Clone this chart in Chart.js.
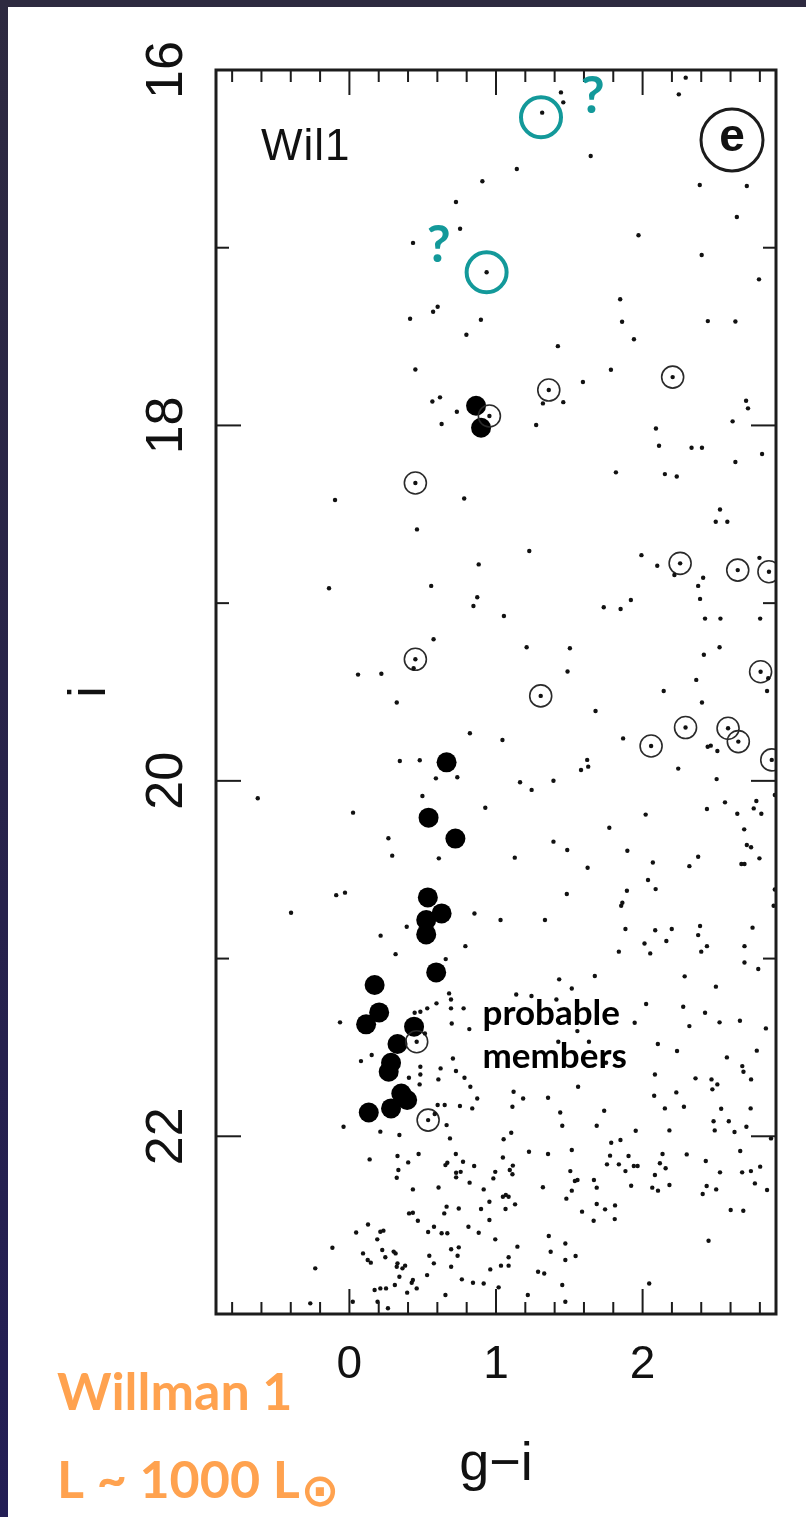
<!DOCTYPE html>
<html>
<head>
<meta charset="utf-8">
<script src="https://cdn.jsdelivr.net/npm/chart.js@4/dist/chart.umd.min.js"></script>
<style>
  html, body { margin: 0; padding: 0; }
  body {
    width: 806px; height: 1517px; overflow: hidden;
    background: linear-gradient(180deg, #2e2a40 0%, #27224c 60%, #231e55 100%);
  }
  #wrap { position: absolute; left: 8px; top: 7px; width: 798px; height: 1510px; background: #fff; }
</style>
</head>
<body>
<div id="wrap"><canvas id="cmd" width="798" height="1510"></canvas></div>
<script>
// g-i colour vs i magnitude, Willman 1 field

// axis ticks / labels
const xRange = [-0.91, 2.91];
const yRange = [16, 23];
const xMajor = [0, 1, 2];
const xLabels = ["0", "1", "2"];
const xMinor = [-0.8, -0.6, -0.4, -0.2, 0.2, 0.4, 0.6, 0.8, 1.2, 1.4, 1.6, 1.8, 2.2, 2.4, 2.6, 2.8];
const yMajor = [16, 18, 20, 22];
const yLabels = ["16", "18", "20", "22"];
const yMinor = [17, 19, 21];

// field stars (small dots)  [g-i, i]
const fieldStars = [
  [1.443,16.126],[1.459,16.182],[1.315,16.24],[2.247,16.137],[2.294,16.043],[1.646,16.484],[1.142,16.557],[0.907,16.626],
  [0.727,16.743],[0.755,16.893],[0.434,16.973],[0.936,17.138],[2.39,16.647],[2.711,16.653],[2.643,16.827],[1.972,16.93],
  [2.403,17.041],[2.794,17.178],[1.847,17.29],
  [0.602,17.332],[0.571,17.36],[0.414,17.40],[0.897,17.405],[0.798,17.49],[1.86,17.417],[2.445,17.413],[2.633,17.415],
  [1.941,17.515],[1.422,17.554],[0.45,17.685],[1.784,17.687],[1.593,17.756],[1.32,17.876],[1.459,17.869],[0.618,17.842],
  [0.566,17.865],[0.733,17.923],[0.629,17.992],[1.274,17.998],[2.706,17.861],[2.719,17.904],[2.614,17.977],[2.091,18.017],
  [2.112,18.114],[2.334,18.126],[2.405,18.126],[2.815,18.161],[2.633,18.206],[1.818,18.264],[2.152,18.274],[2.233,18.287],
  [-0.098,18.42],[0.783,18.411],[0.461,18.585],[2.528,18.473],[2.499,18.542],[2.578,18.542],[1.227,18.707],[0.882,18.782],
  [1.992,18.73],[2.1,18.79],[2.797,18.745],[2.217,18.842],[2.413,18.857],
  [-0.139,18.916],[0.558,18.903],[0.872,18.967],[0.846,19.016],[1.054,19.072],[1.735,19.023],[1.85,19.033],[1.92,18.982],
  [2.379,18.903],[2.392,18.976],[2.426,19.087],[2.531,19.087],[2.802,19.087],[0.574,19.203],[1.209,19.248],[1.504,19.254],
  [1.488,19.385],[2.418,19.29],[2.525,19.248],[0.438,19.366],[0.059,19.402],[0.218,19.397],[0.323,19.559],[2.366,19.432],
  [2.857,19.423],[2.849,19.494],[2.144,19.494],[2.405,19.559],[1.679,19.607],[0.822,19.732],[1.044,19.77],[1.867,19.761],
  [2.444,19.808],[2.465,19.802],[2.51,19.832],[2.243,19.931],[2.505,19.99],[1.622,19.882],[1.629,19.92],[1.58,19.939],
  [0.344,19.888],[0.48,19.884],[0.59,19.986],[0.736,19.98],[1.164,20.008],[1.243,20.051],[1.392,19.999],[-0.625,20.098],
  [0.498,20.085],[0.025,20.179],[0.927,20.151],[0.266,20.323],[0.292,20.421],[0.61,20.436],[1.128,20.432],[1.392,20.342],
  [1.486,20.389],[1.773,20.264],[1.896,20.393],[2.021,20.19],[2.379,20.427],[2.439,20.158],[2.562,20.121],[2.646,20.185],
  [2.776,20.113],[2.758,20.155],[2.81,20.185],[2.693,20.273],[2.711,20.361],[2.74,20.374],[2.902,20.08],[2.797,20.436],
  [2.07,20.459],[2.319,20.48],[2.674,20.468],[2.695,20.468],[1.625,20.489],[2.037,20.558],[2.089,20.609],[1.893,20.618],
  [1.862,20.686],[1.854,20.703],[1.483,20.637],[2.902,20.611],[2.894,20.703],[-0.09,20.643],[-0.03,20.629],[-0.398,20.742],
  [0.853,20.746],[1.031,20.783],[1.334,20.783],[0.391,20.821],[0.213,20.871],[0.315,20.975],[0.791,20.93],[0.657,21.003],
  [1.883,20.834],[2.086,20.841],[2.199,20.834],[2.013,20.915],[2.052,20.971],[2.162,20.901],[1.838,20.961],[2.392,20.817],
  [2.379,20.868],[2.4,20.961],[2.439,20.93],[2.75,20.826],[2.695,20.93],[2.695,21.022],[2.789,21.059],
  [0.68,21.196],[0.693,21.23],[0.531,21.28],[0.594,21.252],[0.484,21.299],[0.445,21.305],[0.693,21.28],[0.779,21.28],
  [0.698,21.365],[0.818,21.397],[-0.064,21.359],[0.152,21.543],[0.079,21.577],[0.515,21.421],[0.706,21.562],[0.622,21.618],
  [0.727,21.633],[0.484,21.609],[0.484,21.652],[0.607,21.68],[0.479,21.708],[0.406,21.671],[0.785,21.671],[0.825,21.721],
  [0.872,21.787],[0.754,21.83],[0.838,21.843],[0.602,21.824],[0.65,21.824],[0.582,21.875],[0.663,21.937],[0.211,21.974],
  [0.341,21.993],[-0.04,21.946],[1.674,21.098],[1.431,21.117],[1.517,21.168],[1.138,21.202],[1.242,21.211],[1.412,21.23],
  [1.555,21.408],[1.425,21.468],[1.634,21.468],[1.751,21.586],[1.83,21.565],[1.56,21.721],[1.738,21.856],[1.946,21.361],
  [2.024,21.256],[2.277,21.271],[2.426,21.305],[2.525,21.359],[2.664,21.35],[2.841,21.393],[2.319,21.38],[2.5,21.158],
  [2.287,21.1],[2.104,21.481],[2.235,21.52],[2.575,21.556],[2.779,21.518],[2.68,21.605],[2.688,21.637],[2.74,21.68],
  [2.361,21.674],[2.47,21.68],[2.51,21.708],[2.476,21.736],[2.084,21.652],[2.079,21.772],[2.23,21.753],[2.152,21.843],
  [2.282,21.834],[2.536,21.845],[2.737,21.843],[2.484,21.915],[2.588,21.915],[2.627,21.976],[2.708,21.946],[2.492,21.967],
  [2.183,21.967],[1.953,21.969],[1.687,21.941],[1.452,21.941],[1.12,21.749],[1.185,21.787],[1.355,21.783],[1.112,21.834],
  [1.438,21.866],
  [0.686,22.012],[1.052,22.017],[1.104,21.98],[2.876,22.012],[1.225,22.087],[1.355,22.1],[1.517,22.077],[1.786,22.036],
  [1.849,22.021],[1.778,22.109],[1.904,22.111],[1.757,22.158],[1.838,22.158],[1.883,22.196],[1.94,22.167],[1.966,22.167],
  [2.136,22.1],[2.118,22.152],[2.157,22.18],[2.301,22.102],[2.084,22.218],[1.922,22.278],[2.066,22.289],[2.105,22.306],
  [2.183,22.274],[2.431,22.139],[2.528,22.203],[2.666,22.083],[2.679,22.203],[2.739,22.196],[2.802,22.171],[2.849,22.302],
  [2.766,22.265],[2.437,22.28],[2.41,22.325],[2.502,22.299],[2.601,22.415],[2.687,22.419],[2.45,22.588],[2.045,22.828],
  [1.507,22.196],[1.556,22.246],[1.538,22.252],[1.517,22.306],[1.48,22.351],[1.668,22.246],[1.687,22.289],[1.687,22.381],
  [1.744,22.411],[1.812,22.389],[1.81,22.466],[1.666,22.475],[1.587,22.424],[1.32,22.287],[0.472,22.1],[0.401,22.147],
  [0.328,22.111],[0.334,22.19],[0.323,22.233],[0.138,22.13],[0.433,22.299],[0.608,22.288],[0.655,22.162],[0.668,22.149],
  [0.726,22.1],[0.775,22.143],[0.728,22.205],[0.759,22.2],[0.728,22.231],[0.851,22.167],[0.82,22.261],[0.916,22.299],
  [0.995,22.2],[0.982,22.237],[1.094,22.19],[1.112,22.214],[1.047,22.119],[1.115,22.165],[1.067,22.33],[1.047,22.34],
  [1.086,22.34],[1.13,22.383],[1.065,22.409],[0.955,22.368],[0.898,22.409],[0.955,22.471],[0.812,22.509],[0.882,22.543],
  [0.995,22.58],[1.146,22.621],[1.086,22.681],[1.034,22.728],[1.086,22.728],[0.961,22.749],[0.767,22.805],[0.843,22.824],
  [0.916,22.828],[1.018,22.85],[1.217,22.893],[1.36,22.561],[1.373,22.65],[1.473,22.603],[1.473,22.696],[1.543,22.674],
  [1.287,22.762],[1.329,22.772],[1.452,22.837],[1.473,22.931],[0.647,22.434],[0.663,22.396],[0.746,22.406],[0.407,22.434],
  [0.433,22.43],[0.467,22.475],[0.577,22.509],[0.537,22.539],[0.629,22.546],[0.668,22.546],[0.694,22.636],[0.746,22.625],
  [0.738,22.672],[0.694,22.734],[0.545,22.672],[0.576,22.715],[0.53,22.781],[0.655,22.893],[0.127,22.496],[0.046,22.541],
  [0.232,22.531],[0.211,22.537],[0.19,22.58],[0.224,22.64],[0.302,22.649],[0.315,22.659],[0.093,22.659],[0.146,22.711],
  [0.125,22.696],[0.245,22.681],[0.328,22.715],[0.323,22.734],[0.38,22.728],[0.362,22.743],[0.341,22.79],[0.31,22.837],
  [0.433,22.809],[0.459,22.856],[0.425,22.824],[0.172,22.865],[0.211,22.856],[0.25,22.856],[0.394,22.88],[-0.116,22.627],
  [-0.233,22.743],[-0.267,22.94],[0.023,22.931],[0.192,22.931],[0.263,22.968]
];

// open circles (stars with a dot in the middle)
const openStars = [
  [0.955,17.947],[1.36,17.801],[2.205,17.728],[0.45,18.324],[2.256,18.776],[2.649,18.814],[2.862,18.823],[0.45,19.316],
  [1.305,19.522],[2.805,19.386],[2.293,19.7],[2.583,19.704],[2.653,19.779],[2.058,19.804],[2.881,19.882],[0.459,21.468],
  [0.537,21.909]
];

// probable members (filled)
const members = [
  [0.864,17.889],[0.898,18.013],[0.663,19.896],[0.54,20.207],[0.723,20.325],[0.535,20.656],[0.629,20.746],[0.524,20.783],
  [0.524,20.864],[0.592,21.078],[0.172,21.149],[0.203,21.303],[0.114,21.37],[0.441,21.383],[0.328,21.481],[0.284,21.586],
  [0.268,21.637],[0.354,21.759],[0.394,21.796],[0.132,21.866],[0.284,21.843]
];

// bright candidates circled in teal, with "?" marks
const tealRings = [[1.307,16.266],[0.936,17.138]];
const qMarks = [[1.66,16.15],[0.61,16.985]];

const TEAL = '#13999a';
const ORANGE = '#ffa24f';

function pts(arr) { return arr.map(p => ({x: p[0], y: p[1]})); }

const decor = {
  id: 'decor',
  afterDraw(chart) {
    const ctx = chart.ctx;
    const a = chart.chartArea;
    const x = chart.scales.x, y = chart.scales.y;
    ctx.save();
    ctx.strokeStyle = '#1c1c1c';
    ctx.lineCap = 'butt';

    function seg(x1, y1, x2, y2) { ctx.beginPath(); ctx.moveTo(x1, y1); ctx.lineTo(x2, y2); ctx.stroke(); }

    // inward ticks
    ctx.lineWidth = 2;
    xMinor.forEach(v => {
      const px = x.getPixelForValue(v);
      seg(px, a.top, px, a.top + 12);
      seg(px, a.bottom, px, a.bottom - 12);
    });
    xMajor.forEach(v => {
      const px = x.getPixelForValue(v);
      seg(px, a.top, px, a.top + 25);
      seg(px, a.bottom, px, a.bottom - 25);
    });
    yMinor.forEach(v => {
      const py = y.getPixelForValue(v);
      seg(a.left, py, a.left + 13, py);
      seg(a.right, py, a.right - 13, py);
    });
    yMajor.forEach(v => {
      const py = y.getPixelForValue(v);
      seg(a.left, py, a.left + 25, py);
      seg(a.right, py, a.right - 25, py);
    });

    // frame
    ctx.lineWidth = 3;
    ctx.strokeRect(a.left, a.top, a.right - a.left, a.bottom - a.top);

    // tick labels
    ctx.fillStyle = '#111';
    ctx.font = '46px "Liberation Sans", Arial, sans-serif';
    ctx.textAlign = 'center';
    ctx.textBaseline = 'alphabetic';
    xMajor.forEach((v, k) => ctx.fillText(xLabels[k], x.getPixelForValue(v), a.bottom + 64));

    ctx.font = '52px "Liberation Sans", Arial, sans-serif';
    yMajor.forEach((v, k) => {
      ctx.save();
      ctx.translate(a.left - 34, y.getPixelForValue(v));
      ctx.rotate(-Math.PI / 2);
      ctx.fillText(yLabels[k], 0, 0);
      ctx.restore();
    });

    // axis titles
    ctx.save();
    ctx.translate(a.left - 111, (a.top + a.bottom) / 2);
    ctx.rotate(-Math.PI / 2);
    ctx.fillText('i', 0, 0);
    ctx.restore();

    ctx.font = '54px "Liberation Sans", Arial, sans-serif';
    ctx.fillText('g\u2212i', x.getPixelForValue(1), a.bottom + 166);

    // panel label
    ctx.textAlign = 'left';
    ctx.font = '44px "Liberation Sans", Arial, sans-serif';
    ctx.letterSpacing = '1px';
    ctx.fillText('Wil1', a.left + 45, a.top + 90);
    ctx.letterSpacing = '0px';

    ctx.lineWidth = 3;
    ctx.beginPath();
    ctx.arc(a.right - 44, a.top + 70, 31, 0, Math.PI * 2);
    ctx.stroke();
    ctx.textAlign = 'center';
    ctx.textBaseline = 'middle';
    ctx.font = 'bold 46px "Liberation Sans", Arial, sans-serif';
    ctx.fillText('e', a.right - 44, a.top + 68);

    // teal question marks
    ctx.fillStyle = TEAL;
    ctx.font = 'bold 52px Lato, sans-serif';
    qMarks.forEach(q => ctx.fillText('?', x.getPixelForValue(q[0]), y.getPixelForValue(q[1])));

    // "probable members"
    ctx.fillStyle = '#000';
    ctx.textAlign = 'left';
    ctx.textBaseline = 'alphabetic';
    ctx.font = 'bold 35px Lato, sans-serif';
    ctx.fillText('probable', x.getPixelForValue(0.908), y.getPixelForValue(21.374));
    ctx.fillText('members', x.getPixelForValue(0.908), y.getPixelForValue(21.616));

    ctx.restore();

    // orange caption under the panel
    ctx.save();
    ctx.fillStyle = ORANGE;
    ctx.textAlign = 'left';
    ctx.textBaseline = 'alphabetic';
    ctx.font = 'bold 52px Lato, sans-serif';
    ctx.fillText('Willman 1', 49, 1403);
    const t = 'L ~ 1000 L';
    ctx.fillText(t, 49, 1491);
    const w = ctx.measureText(t).width;
    ctx.font = 'bold 46px "DejaVu Sans", sans-serif';
    ctx.fillText('\u2299', 49 + w + 1, 1499);
    ctx.restore();
  }
};

new Chart('cmd', {
  type: 'scatter',
  data: {
    datasets: [
      { data: pts(fieldStars), pointRadius: 2.2, backgroundColor: '#111', borderWidth: 0, clip: 0 },
      { data: pts(openStars), pointRadius: 11, backgroundColor: 'rgba(0,0,0,0)', borderColor: '#2a2a2a', borderWidth: 1.6, clip: 0 },
      { data: pts(openStars), pointRadius: 2.2, backgroundColor: '#111', borderWidth: 0, clip: 0 },
      { data: pts(members), pointRadius: 10, backgroundColor: '#000', borderWidth: 0, clip: 0 },
      { data: pts(tealRings), pointRadius: 20, backgroundColor: 'rgba(0,0,0,0)', borderColor: TEAL, borderWidth: 4, clip: 0 }
    ]
  },
  options: {
    responsive: false,
    animation: false,
    events: [],
    layout: { padding: { left: 208, top: 63, right: 30, bottom: 203 } },
    plugins: { legend: { display: false }, tooltip: { enabled: false } },
    scales: {
      x: { type: 'linear', min: xRange[0], max: xRange[1], display: false },
      y: { type: 'linear', min: yRange[0], max: yRange[1], reverse: true, display: false }
    }
  },
  plugins: [decor]
});
</script>
</body>
</html>
